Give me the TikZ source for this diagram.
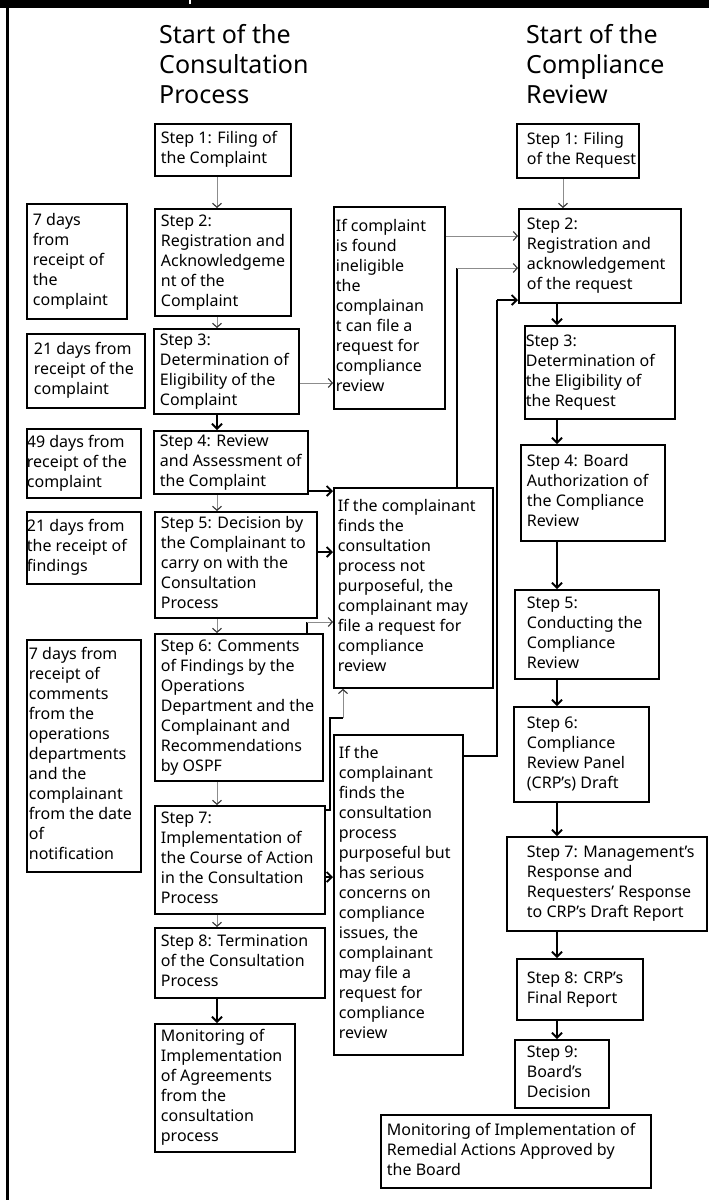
\documentclass[tikz,border=0pt]{standalone}
\usepackage{fontspec}
\setmainfont{Noto Sans}
\usetikzlibrary{arrows.meta}
\newcommand\bxt[2]{\makebox[#1][l]{\begin{tabular}{@{}l@{}}#2\end{tabular}}}
\begin{document}
\begin{tikzpicture}[x=1pt,y=-1pt,
 bx/.style={draw=black, line width=1.8pt, anchor=north west, inner ysep=0pt, font=\fontsize{16}{20}\selectfont},
 ttl/.style={anchor=north west, align=left, inner sep=0pt, font=\fontsize{25}{30}\selectfont},
 garrow/.style={draw=black!45, line width=0.8pt, -{Straight Barb[length=4pt,width=9pt,line width=1.1pt,color=black!80]}},
 barrow/.style={draw=black, line width=1.8pt, -{Straight Barb[length=5pt,width=10pt]}},
 bline/.style={draw=black, line width=1.8pt},
]
\useasboundingbox (0,0) rectangle (709,1200);
% frame
\fill[black] (0,0) rectangle (709,8);
\draw[white, line width=1.2pt] (190,0) -- (190,4);
\draw[black, line width=2.6pt] (7.5,0) -- (7.5,1200);

% titles
\node[ttl] (TL) at (159,24) {Start of the\\Consultation\\Process};
\node[ttl] (TR) at (526,24) {Start of the\\Compliance\\Review};

% time boxes
\node[bx, minimum width=100pt, minimum height=115pt, inner xsep=6pt] (T1) at (26,203) {\bxt{88pt}{7 days\\from\\receipt of\\the\\complaint}};
\node[bx, minimum width=118pt, minimum height=74pt, inner xsep=7pt] (T2) at (26,333) {\bxt{104pt}{21 days from\\receipt of the\\complaint}};
\node[bx, minimum width=114pt, minimum height=69pt, inner xsep=0pt] (T3) at (26,428) {\bxt{114pt}{49 days from\\receipt of the\\complaint}};
\node[bx, minimum width=114pt, minimum height=72pt, inner xsep=0pt] (T4) at (26,511) {\bxt{114pt}{21 days from\\the receipt of\\findings}};
\node[bx, minimum width=114pt, minimum height=232pt, inner xsep=2pt] (T5) at (26,639) {\bxt{110pt}{7 days from\\receipt of\\comments\\from the\\operations\\departments\\and the\\complainant\\from the date\\of\\notification}};

% consultation column
\node[bx, minimum width=136pt, minimum height=52pt, inner xsep=6pt] (L1) at (154,123) {\bxt{124pt}{Step 1: Filing of\\the Complaint}};
\node[bx, minimum width=136pt, minimum height=107pt, inner xsep=6pt] (L2) at (154,208) {\bxt{124pt}{Step 2:\\Registration and\\Acknowledgeme\\nt of the\\Complaint}};
\node[bx, minimum width=145pt, minimum height=85pt, inner xsep=6pt] (L3) at (153,328) {\bxt{133pt}{Step 3:\\Determination of\\Eligibility of the\\Complaint}};
\node[bx, minimum width=154pt, minimum height=63pt, inner xsep=6pt] (L4) at (153,430) {\bxt{142pt}{Step 4: Review\\and Assessment of\\the Complaint}};
\node[bx, minimum width=162pt, minimum height=106pt, inner xsep=6pt] (L5) at (154,511) {\bxt{150pt}{Step 5: Decision by\\the Complainant to\\carry on with the\\Consultation\\Process}};
\node[bx, minimum width=168pt, minimum height=147pt, inner xsep=6pt] (L6) at (154,633) {\bxt{156pt}{Step 6: Comments\\of Findings by the\\Operations\\Department and the\\Complainant and\\Recommendations\\by OSPF}};
\node[bx, minimum width=170pt, minimum height=108pt, inner xsep=6pt] (L7) at (154,805) {\bxt{158pt}{Step 7:\\Implementation of\\the Course of Action\\in the Consultation\\Process}};
\node[bx, minimum width=170pt, minimum height=70pt, inner xsep=6pt] (L8) at (154,927) {\bxt{158pt}{Step 8: Termination\\of the Consultation\\Process}};
\node[bx, minimum width=140pt, minimum height=128pt, inner xsep=6pt] (LM) at (154,1023) {\bxt{128pt}{Monitoring of\\Implementation\\of Agreements\\from the\\consultation\\process}};

% middle boxes
\node[bx, minimum width=111pt, minimum height=202pt, inner xsep=2pt] (M1) at (333,206) {\bxt{107pt}{If complaint\\is found\\ineligible\\the\\complainan\\t can file a\\request for\\compliance\\review}};
\node[bx, minimum width=159pt, minimum height=200pt, inner xsep=4pt] (M2) at (333,487) {\bxt{151pt}{If the complainant\\finds the\\consultation\\process not\\purposeful, the\\complainant may\\file a request for\\compliance\\review}};
\node[bx, minimum width=129pt, minimum height=320pt, inner xsep=5pt] (M3) at (333,734) {\bxt{119pt}{If the\\complainant\\finds the\\consultation\\process\\purposeful but\\has serious\\concerns on\\compliance\\issues, the\\complainant\\may file a\\request for\\compliance\\review}};

% compliance column
\node[bx, minimum width=122pt, minimum height=54pt, inner xsep=10pt] (R1) at (516,123) {\bxt{102pt}{Step 1: Filing\\of the Request}};
\node[bx, minimum width=162pt, minimum height=94pt, inner xsep=8pt] (R2) at (518,208) {\bxt{146pt}{Step 2:\\Registration and\\acknowledgement\\of the request}};
\node[bx, minimum width=150pt, minimum height=93pt, inner xsep=1pt] (R3) at (524,325) {\bxt{148pt}{Step 3:\\Determination of\\the Eligibility of\\the Request}};
\node[bx, minimum width=144pt, minimum height=96pt, inner xsep=6pt] (R4) at (520,444) {\bxt{132pt}{Step 4: Board\\Authorization of\\the Compliance\\Review}};
\node[bx, minimum width=144pt, minimum height=89pt, inner xsep=12pt] (R5) at (514,589) {\bxt{120pt}{Step 5:\\Conducting the\\Compliance\\Review}};
\node[bx, minimum width=135pt, minimum height=95pt, inner xsep=13pt] (R6) at (513,706) {\bxt{109pt}{Step 6:\\Compliance\\Review Panel\\(CRP's) Draft}};
\node[bx, minimum width=200pt, minimum height=94pt, inner xsep=20pt] (R7) at (506,836) {\bxt{160pt}{Step 7: Management's\\Response and\\Requesters' Response\\to CRP's Draft Report}};
\node[bx, minimum width=126pt, minimum height=61pt, inner xsep=10pt] (R8) at (516,958) {\bxt{106pt}{Step 8: CRP's\\Final Report}};
\node[bx, minimum width=94pt, minimum height=68pt, inner xsep=12pt] (R9) at (514,1039) {\bxt{70pt}{Step 9:\\Board's\\Decision}};
\node[bx, minimum width=270pt, minimum height=73pt, inner xsep=6pt] (RM) at (380,1114) {\bxt{258pt}{Monitoring of Implementation of\\Remedial Actions Approved by\\the Board}};

% helper coordinates
\coordinate (lx) at (217,0);
\coordinate (rx) at (557,0);
\coordinate (r1x) at (563,0);
\coordinate (y236) at (0,236);
\coordinate (y383) at (0,383);
\coordinate (y492) at (0,491);
\coordinate (y552) at (0,552);
\coordinate (y877) at (0,877);
\coordinate (c13) at (307,622);
\coordinate (c14a) at (330,810);
\coordinate (c14b) at (330,718);
\coordinate (c14c) at (343,718);
\coordinate (c16) at (457,268);
\coordinate (c17a) at (497,756);
\coordinate (c17b) at (497,300);

% consultation column arrows
\draw[garrow] (lx |- L1.south) -- (lx |- L2.north);
\draw[garrow] (lx |- L2.south) -- (lx |- L3.north);
\draw[barrow] (lx |- L3.south) -- (lx |- L4.north);
\draw[garrow] (lx |- L4.south) -- (lx |- L5.north);
\draw[garrow] (lx |- L5.south) -- (lx |- L6.north);
\draw[garrow] (lx |- L6.south) -- (lx |- L7.north);
\draw[garrow] (lx |- L7.south) -- (lx |- L8.north);
\draw[barrow] (lx |- L8.south) -- (lx |- LM.north);

% to middle boxes
\draw[garrow] (L3.east |- y383) -- (M1.west |- y383);
\draw[garrow] (M1.east |- y236) -- (R2.west |- y236);
\draw[barrow] (L4.east |- y492) -- (M2.west |- y492);
\draw[barrow] (L5.east |- y552) -- (M2.west |- y552);
\draw[bline] (c13 |- L6.north) -- (c13);
\draw[garrow] (c13) -- (M2.west |- c13);
\draw[bline] (L7.east |- c14a) -- (c14a) -- (c14b) -- (c14c);
\draw[garrow] (c14c) -- (c14c |- M2.south);
\draw[barrow] (L7.east |- y877) -- (M3.west |- y877);
\draw[bline] (c16 |- M2.north) -- (c16);
\draw[garrow] (c16) -- (R2.west |- c16);
\draw[bline] (M3.east |- c17a) -- (c17a) -- (c17b);
\draw[barrow] (c17b) -- (R2.west |- c17b);

% compliance column arrows
\draw[garrow] (r1x |- R1.south) -- (r1x |- R2.north);
\draw[barrow] (rx |- R2.south) -- (rx |- R3.north);
\draw[barrow] (rx |- R3.south) -- (rx |- R4.north);
\draw[barrow] (rx |- R4.south) -- (rx |- R5.north);
\draw[barrow] (rx |- R5.south) -- (rx |- R6.north);
\draw[barrow] (rx |- R6.south) -- (rx |- R7.north);
\draw[barrow] (rx |- R7.south) -- (rx |- R8.north);
\draw[barrow] (rx |- R8.south) -- (rx |- R9.north);
\end{tikzpicture}
\end{document}
